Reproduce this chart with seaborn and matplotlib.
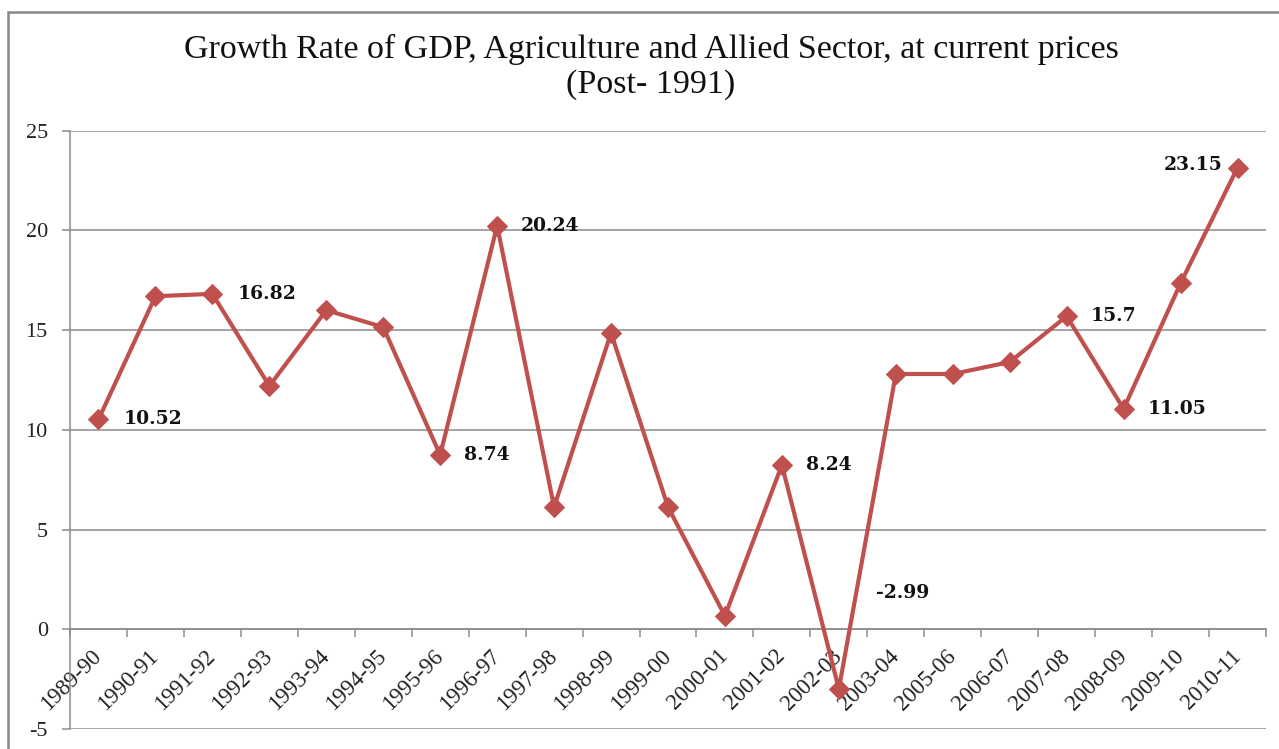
import matplotlib
matplotlib.use("Agg")
import matplotlib.pyplot as plt
from matplotlib.patches import Rectangle
import seaborn as sns
import pandas as pd

# Agriculture & allied sector growth rate (%), current prices
years = ["1989-90", "1990-91", "1991-92", "1992-93", "1993-94", "1994-95",
         "1995-96", "1996-97", "1997-98", "1998-99", "1999-00", "2000-01",
         "2001-02", "2002-03", "2003-04", "2005-06", "2006-07", "2007-08",
         "2008-09", "2009-10", "2010-11"]
growth = [10.52, 16.7, 16.82, 12.2, 16.0, 15.15, 8.74, 20.24, 6.13, 14.86,
          6.13, 0.67, 8.24, -2.99, 12.8, 12.8, 13.4, 15.7, 11.05, 17.35, 23.15]

# values that carry a data label, and where each label sits (offset in points)
labelled = {"1989-90": (18, 0, "left"), "1991-92": (18, 0, "left"),
            "1995-96": (17, 0, "left"), "1996-97": (17, 0, "left"),
            "2001-02": (17, 0, "left"), "2002-03": (27, 69, "left"),
            "2007-08": (17, 0, "left"), "2008-09": (17, 0, "left"),
            "2010-11": (-11, 2, "right")}

df = pd.DataFrame({"year": years, "growth": growth})

sns.set_theme(style="white")
plt.rcParams["font.family"] = ["Liberation Serif", "DejaVu Serif"]
plt.rcParams["axes.unicode_minus"] = False

W, H = 1279, 749
fig = plt.figure(figsize=(W / 100, H / 100), dpi=100)
ax = fig.add_axes([70 / W, 1 - 729 / H, (1266 - 70) / W, (729 - 130.7) / H])

red = "#C0504D"
grey = "#8C8C8C"

sns.lineplot(data=df, x="year", y="growth", sort=False, ax=ax, color=red,
             linewidth=3, marker="D", markersize=10, markeredgecolor=red,
             markerfacecolor=red, zorder=5)

ax.set_xlim(-0.5, len(years) - 0.5)
ax.set_ylim(-5, 25)
ax.set_yticks(range(-5, 30, 5))
ax.set_xlabel("")
ax.set_ylabel("")

# horizontal gridlines and axis styling
ax.grid(axis="y", color=grey, linewidth=1.1)
ax.grid(axis="x", visible=False)
for side in ["top", "right"]:
    ax.spines[side].set_visible(False)
ax.spines["left"].set_color(grey)
ax.spines["left"].set_linewidth(1.1)
ax.spines["bottom"].set_position(("data", 0))
ax.spines["bottom"].set_color(grey)
ax.spines["bottom"].set_linewidth(1.1)

ax.tick_params(axis="y", which="major", direction="out", length=6, width=1.1,
               color=grey, pad=10, labelsize=16, labelcolor="#222222", left=True)
ax.set_xticks(range(len(years)))
ax.set_xticks([i - 0.5 for i in range(len(years) + 1)], minor=True)
ax.tick_params(axis="x", which="major", length=0, pad=17, labelsize=16.5,
               labelcolor="#222222", bottom=True)
ax.tick_params(axis="x", which="minor", direction="out", length=6, width=1.1,
               color=grey, bottom=True)
ax.set_xticklabels(years, rotation=45, ha="right", va="center",
                   rotation_mode="anchor")

# data labels
for x, (yr, val) in enumerate(zip(years, growth)):
    if yr in labelled:
        dx, dy, ha = labelled[yr]
        ax.annotate(f"{val:g}", (x, val), xytext=(dx, dy),
                    textcoords="offset points", ha=ha, va="center",
                    fontsize=13.5, fontweight="bold", family="DejaVu Serif",
                    color="#111111", zorder=6)

fig.text(651 / W, 1 - 49 / H,
         "Growth Rate of GDP, Agriculture and Allied Sector, at current prices",
         ha="center", va="center", fontsize=24.5, color="#111111")
fig.text(651 / W, 1 - 85 / H, "(Post- 1991)",
         ha="center", va="center", fontsize=24.5, color="#111111")

# chart frame
fig.patches.append(Rectangle((8 / W, -0.05), 1.2, 1 - 12 / H + 0.05,
                             transform=fig.transFigure, fill=False,
                             edgecolor="#888888", linewidth=1.8))

fig.savefig("out.png", dpi=100)
